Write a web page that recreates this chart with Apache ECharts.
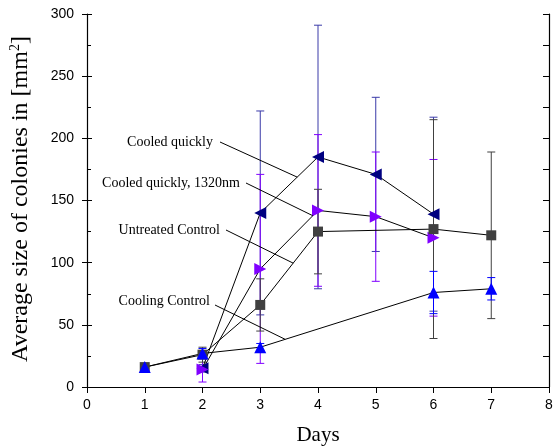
<!DOCTYPE html>
<html>
<head>
<meta charset="utf-8">
<script src="https://cdn.jsdelivr.net/npm/echarts@6/dist/echarts.min.js"></script>
<style>
  html, body { margin: 0; padding: 0; background: #fff; }
  #chart { width: 553px; height: 447px; }
</style>
</head>
<body>
<div id="chart"></div>
<script>
// Colony growth over time: mean size with standard-deviation bars.

// Untreated Control (grey squares)
const untreatedDays = [1, 2, 3, 4, 6, 7];
const untreatedMean = [16, 26, 66, 125, 127, 122];
const untreatedErr  = [2, 6, 21, 34, 88, 67];

// Cooled quickly (navy left-pointing triangles)
const cooledDays = [2, 3, 4, 5, 6];
const cooledMean = [15, 140, 185, 171, 139];
const cooledErr  = [3, 82, 106, 62, 78];

// Cooled quickly, 1320nm (violet right-pointing triangles)
const laserDays = [2, 3, 4, 5, 6];
const laserMean = [14, 95, 142, 137, 120];
const laserErr  = [10, 76, 61, 52, 63];

// Cooling Control (blue triangles)
const coolCtrlDays = [1, 2, 3, 6, 7];
const coolCtrlMean = [16, 27, 32, 76, 79];
const coolCtrlErr  = [3, 4, 3, 17, 9];

// Axis ticks
const xTicks = [0, 1, 2, 3, 4, 5, 6, 7, 8];
const yTicks = [0, 50, 100, 150, 200, 250, 300];

const SERIF = '"Liberation Serif", "DejaVu Serif", serif';
const SANS = '"Liberation Sans", Arial, sans-serif';

const groups = [
  { name: 'Cooled quickly', days: cooledDays, mean: cooledMean, err: cooledErr,
    color: '#000080', barColor: '#3a3aa8', symbol: 'triangle', rotate: 90, size: 12 },
  { name: 'Cooled quickly, 1320nm', days: laserDays, mean: laserMean, err: laserErr,
    color: '#8000ff', barColor: '#8000ff', symbol: 'triangle', rotate: -90, size: 12 },
  { name: 'Untreated Control', days: untreatedDays, mean: untreatedMean, err: untreatedErr,
    color: '#404040', barColor: '#404040', symbol: 'rect', rotate: 0, size: 10 },
  { name: 'Cooling Control', days: coolCtrlDays, mean: coolCtrlMean, err: coolCtrlErr,
    color: '#0000ff', barColor: '#0000ff', symbol: 'triangle', rotate: 0, size: 12 }
];

function errorBars(color) {
  return function (params, api) {
    const x = api.value(0);
    const pLo = api.coord([x, api.value(1)]);
    const pHi = api.coord([x, api.value(2)]);
    const hw = 4;
    const st = { stroke: color, lineWidth: 1 };
    return {
      type: 'group',
      children: [
        { type: 'line', shape: { x1: pHi[0], y1: pHi[1], x2: pLo[0], y2: pLo[1] }, style: st },
        { type: 'line', shape: { x1: pHi[0] - hw, y1: pHi[1], x2: pHi[0] + hw, y2: pHi[1] }, style: st },
        { type: 'line', shape: { x1: pLo[0] - hw, y1: pLo[1], x2: pLo[0] + hw, y2: pLo[1] }, style: st }
      ]
    };
  };
}

const series = [];
groups.forEach(function (g, i) {
  series.push({
    type: 'custom',
    name: g.name + ' SD',
    renderItem: errorBars(g.barColor),
    data: g.days.map(function (d, k) { return [d, g.mean[k] - g.err[k], g.mean[k] + g.err[k]]; }),
    encode: { x: 0, y: [1, 2] },
    z: 3 + i,
    silent: true
  });
});
groups.forEach(function (g) {
  series.push({
    type: 'line',
    name: g.name,
    data: g.days.map(function (d, k) { return [d, g.mean[k]]; }),
    symbol: g.symbol,
    symbolSize: g.size,
    symbolRotate: g.rotate,
    showSymbol: true,
    lineStyle: { color: '#000', width: 1 },
    itemStyle: { color: g.color, borderWidth: 0 },
    z: 10,
    animation: false
  });
});

const axisLine = { show: true, lineStyle: { color: '#000', width: 1.2 } };

const option = {
  animation: false,
  backgroundColor: '#fff',
  grid: { left: 87, right: 4, top: 14, bottom: 60, containLabel: false, outerBoundsMode: 'none' },
  xAxis: [
    {
      type: 'value', min: xTicks[0], max: xTicks[xTicks.length - 1], interval: 1,
      position: 'bottom',
      axisLine: axisLine,
      axisTick: { show: true, inside: false, length: 6, lineStyle: { color: '#000' } },
      axisLabel: { margin: 11, fontFamily: SANS, fontSize: 14, color: '#000' },
      splitLine: { show: false },
      name: 'Days', nameLocation: 'middle', nameGap: 38,
      nameTextStyle: { fontFamily: SERIF, fontSize: 21, color: '#000' }
    },
    {
      type: 'value', min: xTicks[0], max: xTicks[xTicks.length - 1], interval: 1,
      position: 'top',
      axisLine: axisLine,
      axisTick: { show: true, inside: true, length: 6, lineStyle: { color: '#000' } },
      axisLabel: { show: false },
      splitLine: { show: false }
    }
  ],
  yAxis: [
    {
      type: 'value', min: yTicks[0], max: yTicks[yTicks.length - 1], interval: 50,
      position: 'left',
      axisLine: axisLine,
      axisTick: { show: true, inside: false, length: 5, lineStyle: { color: '#000' } },
      axisLabel: { margin: 13, fontFamily: SANS, fontSize: 14, color: '#000' },
      splitLine: { show: false }
    },
    {
      type: 'value', min: yTicks[0], max: yTicks[yTicks.length - 1], interval: 50,
      position: 'left',
      axisLine: { show: false },
      axisTick: { show: true, inside: true, length: 5, lineStyle: { color: '#000' } },
      minorTick: { show: true, splitNumber: 2, length: 4, lineStyle: { color: '#000' } },
      axisLabel: { show: false },
      splitLine: { show: false }
    },
    {
      type: 'value', min: yTicks[0], max: yTicks[yTicks.length - 1], interval: 50,
      position: 'right',
      axisLine: axisLine,
      axisTick: { show: true, inside: true, length: 6, lineStyle: { color: '#000' } },
      minorTick: { show: true, splitNumber: 2, length: 6, lineStyle: { color: '#000' } },
      axisLabel: { show: false },
      splitLine: { show: false }
    }
  ],
  series: series
};

const chart = echarts.init(document.getElementById('chart'), null, { renderer: 'canvas' });
chart.setOption(option);

// Point on the plotted segment between two days of a series, t in [0,1]
function onSegment(days, vals, d0, d1, t) {
  const i0 = days.indexOf(d0), i1 = days.indexOf(d1);
  const x = d0 + (d1 - d0) * t;
  const y = vals[i0] + (vals[i1] - vals[i0]) * t;
  return chart.convertToPixel({ gridIndex: 0 }, [x, y]);
}

const labels = [
  { text: 'Cooled quickly', right: 213, y: 142, start: [220, 142],
    end: onSegment(cooledDays, cooledMean, 3, 4, 0.64) },
  { text: 'Cooled quickly, 1320nm', right: 240, y: 183, start: [246, 183],
    end: onSegment(laserDays, laserMean, 3, 4, 0.91) },
  { text: 'Untreated Control', right: 220, y: 230, start: [226, 230],
    end: onSegment(untreatedDays, untreatedMean, 3, 4, 0.57) },
  { text: 'Cooling Control', right: 210, y: 301, start: [215, 305],
    end: onSegment(coolCtrlDays, coolCtrlMean, 3, 6, 0.144) }
];

const graphics = [];
labels.forEach(function (l) {
  graphics.push({
    type: 'text', x: l.right, y: l.y, z: 20,
    style: { text: l.text, fontFamily: SERIF, fontSize: 14, fill: '#000',
             textAlign: 'right', textVerticalAlign: 'middle' }
  });
  graphics.push({
    type: 'line', z: 20,
    shape: { x1: l.start[0], y1: l.start[1], x2: l.end[0], y2: l.end[1] },
    style: { stroke: '#000', lineWidth: 1 }
  });
});
graphics.push({
  type: 'text', x: 21, y: 199, rotation: Math.PI / 2, z: 20,
  style: {
    text: '{t|Average size of colonies in [mm}{s|2}{t|]}',
    textAlign: 'center', textVerticalAlign: 'middle',
    rich: {
      t: { fontFamily: SERIF, fontSize: 24, fill: '#000' },
      s: { fontFamily: SERIF, fontSize: 14, fill: '#000', verticalAlign: 'top', padding: [0, 0, 12, 0] }
    }
  }
});
chart.setOption({ graphic: graphics });
</script>
</body>
</html>
